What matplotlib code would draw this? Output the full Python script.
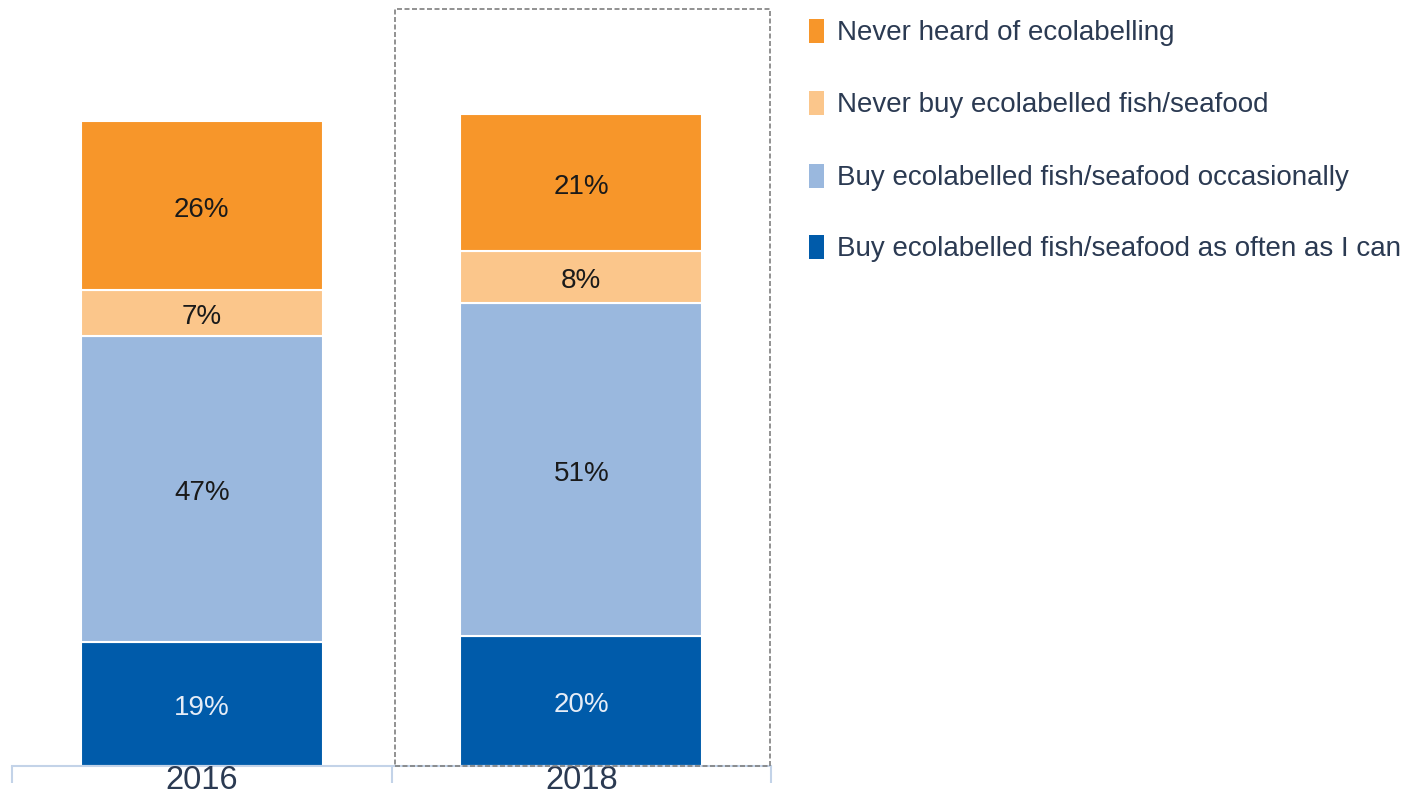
import matplotlib.pyplot as plt
from matplotlib.patches import Rectangle
import numpy as np

plt.rcParams['font.family'] = ['Liberation Sans', 'DejaVu Sans']

years = ['2016', '2018']
# stacked bottom -> top
series = [
    'Buy ecolabelled fish/seafood as often as I can',
    'Buy ecolabelled fish/seafood occasionally',
    'Never buy ecolabelled fish/seafood',
    'Never heard of ecolabelling',
]
values = {
    'Buy ecolabelled fish/seafood as often as I can': [19, 20],
    'Buy ecolabelled fish/seafood occasionally': [47, 51],
    'Never buy ecolabelled fish/seafood': [7, 8],
    'Never heard of ecolabelling': [26, 21],
}
colors = ['#005baa', '#9ab8de', '#fbc68b', '#f7962a']
label_colors = ['#e6edf7', '#1a1a1a', '#1a1a1a', '#1a1a1a']
text_dark = '#2b3a52'
axis_col = '#c3d3e8'

W, H = 1410, 796
fig = plt.figure(figsize=(W / 100, H / 100), dpi=100)
ax = fig.add_axes([12 / W, 1 - 766 / H, 759 / W, 758 / H])

x = np.arange(len(years))
bottom = np.zeros(len(years))
for name, col, lcol in zip(series, colors, label_colors):
    vals = np.array(values[name], dtype=float)
    ax.bar(x, vals, width=0.637, bottom=bottom, color=col,
           edgecolor='white', linewidth=1.5, zorder=2)
    for xi, b, v in zip(x, bottom, vals):
        ax.annotate(f'{int(v)}%', (xi, b + v / 2), xytext=(0, -3),
                    textcoords='offset points', ha='center', va='center',
                    fontsize=20, color=lcol, zorder=3)
    bottom += vals

ax.set_xlim(-0.5, 1.5)
ax.set_ylim(0, 116.3)

# dashed frame around the latest year
ax.add_patch(Rectangle((0.508, 0), 0.99, 116.2, fill=False, edgecolor='#7f7f7f',
                       linestyle=(0, (3, 1.5)), linewidth=1.2, zorder=4,
                       clip_on=False))

for s in ['top', 'right', 'left']:
    ax.spines[s].set_visible(False)
ax.spines['bottom'].set_color(axis_col)
ax.spines['bottom'].set_linewidth(1.5)
ax.set_yticks([])
ax.set_xticks([-0.5, 0.5, 1.5])
ax.set_xticklabels([])
ax.tick_params(axis='x', length=12.5, width=1.5, color=axis_col)
for xi, yr in zip(x, years):
    ax.annotate(yr, (xi, 0), xytext=(0, -16.5), textcoords='offset points',
                ha='center', va='baseline', fontsize=23.5, color=text_dark,
                annotation_clip=False)

# legend, top to bottom
leg_y = [31, 103, 176, 247]
for yy, name, col in zip(leg_y, series[::-1], colors[::-1]):
    fig.add_artist(Rectangle((809 / W, 1 - (yy + 12) / H), 15 / W, 24 / H,
                             facecolor=col, edgecolor='none',
                             transform=fig.transFigure))
    fig.text(837 / W, 1 - (yy + 2) / H, name, ha='left', va='center',
             fontsize=20, color=text_dark)

fig.savefig('out.png', dpi=100)
